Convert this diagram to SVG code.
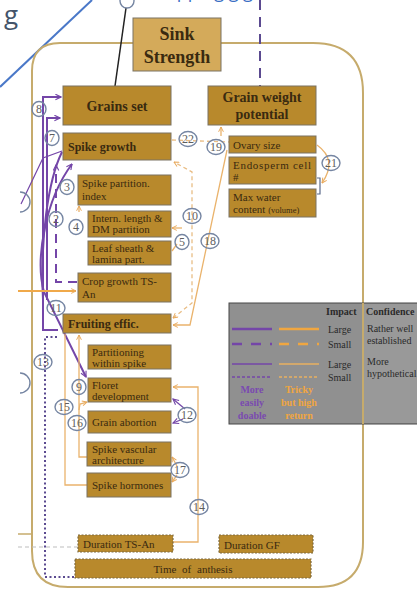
<svg xmlns="http://www.w3.org/2000/svg" width="417" height="591" viewBox="0 0 417 591">
<defs>
<style>
.box{fill:#b8892c;stroke:#7a7262;stroke-width:1}
.dbox{fill:#b8892c;stroke:#7d6a40;stroke-width:1.2;stroke-dasharray:2 1.5}
.t{font-family:"Liberation Serif","DejaVu Serif",serif;fill:#3a2a10;font-size:11px}
.tb{font-family:"Liberation Serif","DejaVu Serif",serif;fill:#3a2a10;font-weight:bold}
.c{fill:none;stroke:#7585a2;stroke-width:1.4}
.cn{font-family:"Liberation Serif","DejaVu Serif",serif;fill:#5e5e5e;font-size:12px;text-anchor:middle}
.pu{fill:none;stroke:#7446a8;stroke-width:2}
.put{fill:none;stroke:#7446a8;stroke-width:1.2}
.or{fill:none;stroke:#eab36c;stroke-width:1.3}
.ord{fill:none;stroke:#e9bd85;stroke-width:1.3;stroke-dasharray:4 3}
.lg{font-family:"Liberation Serif","DejaVu Serif",serif;fill:#2a2a2a;font-size:10px}
</style>
<marker id="ap" viewBox="0 0 10 10" refX="9" refY="5" markerWidth="7" markerHeight="7" orient="auto-start-reverse" markerUnits="userSpaceOnUse">
<path d="M1,1 L9,5 L1,9" fill="none" stroke="#7446a8" stroke-width="1.6"/>
</marker>
<marker id="ao" viewBox="0 0 10 10" refX="9" refY="5" markerWidth="6" markerHeight="6" orient="auto-start-reverse" markerUnits="userSpaceOnUse">
<path d="M1,1 L9,5 L1,9" fill="none" stroke="#e8a85a" stroke-width="1.6"/>
</marker>
</defs>
<rect width="417" height="591" fill="#ffffff"/>
<!-- header fragments -->
<text x="4" y="24" font-family="Open Sans, Liberation Sans, sans-serif" font-size="26" fill="#44546a">g</text>
<text x="150" y="-2" font-family="Open Sans, Liberation Sans, sans-serif" font-size="18" fill="#3a6fc4">mapping gig</text>
<line x1="92" y1="0" x2="0" y2="87" stroke="#4a78c8" stroke-width="2"/>
<!-- outline -->
<path d="M60,43 L313,43 Q363,43 363,93 L363,542 Q363,587 318,587 L68,587 Q32,587 32,551 L32,71 Q32,43 60,43 Z" fill="none" stroke="#c6ab6c" stroke-width="2"/>
<!-- legend -->
<g id="legend">
<rect x="229" y="303" width="200" height="121" fill="#909090" stroke="#474747" stroke-width="1"/>
<rect x="364" y="304" width="53" height="119" fill="#999999"/>
<line x1="363" y1="303" x2="363" y2="424" stroke="#c6ab6c" stroke-width="2"/>
<text class="lg" x="326" y="315" font-weight="bold">Impact</text>
<text class="lg" x="366" y="315" font-weight="bold">Confidence</text>
<line x1="232" y1="329" x2="272" y2="329" stroke="#7446a8" stroke-width="2.5"/>
<line x1="279" y1="329" x2="319" y2="329" stroke="#f0a640" stroke-width="2.5"/>
<text class="lg" x="328" y="333">Large</text>
<text class="lg" x="367" y="332">Rather well</text>
<text class="lg" x="367" y="344">established</text>
<line x1="232" y1="344" x2="272" y2="344" stroke="#7446a8" stroke-width="2.5" stroke-dasharray="10 9"/>
<line x1="279" y1="344" x2="319" y2="344" stroke="#f0a640" stroke-width="2.5" stroke-dasharray="10 9"/>
<text class="lg" x="328" y="348">Small</text>
<line x1="232" y1="364" x2="272" y2="364" stroke="#7446a8" stroke-width="1.5"/>
<line x1="279" y1="364" x2="319" y2="364" stroke="#e8b060" stroke-width="1.5"/>
<text class="lg" x="328" y="368">Large</text>
<text class="lg" x="367" y="365">More</text>
<text class="lg" x="367" y="377">hypothetical</text>
<line x1="232" y1="377" x2="272" y2="377" stroke="#7446a8" stroke-width="1.3" stroke-dasharray="3 2"/>
<line x1="279" y1="377" x2="319" y2="377" stroke="#e8b060" stroke-width="1.3" stroke-dasharray="3 2"/>
<text class="lg" x="328" y="381">Small</text>
<g font-family="Liberation Serif, serif" font-size="10" font-weight="bold" text-anchor="middle" fill="#7a4ab0">
<text x="252" y="393">More</text><text x="252" y="406">easily</text><text x="252" y="419">doable</text>
</g>
<g font-family="Liberation Serif, serif" font-size="10" font-weight="bold" text-anchor="middle" fill="#f0a640">
<text x="299" y="393">Tricky</text><text x="299" y="406">but high</text><text x="299" y="419">return</text>
</g>
</g>
<!-- connectors -->
<g id="connectors">
<line x1="126" y1="8" x2="115" y2="86" stroke="#222" stroke-width="1.5"/>
<line x1="260" y1="0" x2="260" y2="86" stroke="#5b4a90" stroke-width="2" stroke-dasharray="10 7"/>
<path class="pu" d="M58,330 L43,330 L43,97 L61,97" marker-end="url(#ap)"/>
<path class="pu" d="M47,300 L47,118 L60,118" marker-end="url(#ap)"/>
<path class="pu" d="M72,164 C45,200 35,260 44,292 L86,377" marker-start="url(#ap)" marker-end="url(#ap)"/>
<path class="pu" d="M62,152 C48,180 40,240 43,300"/>
<path class="put" d="M21,204 L43,158 L62,151"/>
<path class="pu" d="M77,282 L56,282 L56,165" stroke-dasharray="9 6" marker-end="url(#ap)"/>
<path class="put" d="M185,409 L173,399" marker-end="url(#ap)"/>
<path class="put" d="M183,419 L173,423" marker-end="url(#ap)"/>
<path d="M57,337 L45,337 L45,577 L75,577" fill="none" stroke="#5b4a90" stroke-width="2" stroke-dasharray="2 2.5"/>
<path d="M18,291 L76,291" fill="none" stroke="#f0a94a" stroke-width="2" marker-end="url(#ao)"/>
<path class="ord" d="M173,318 L192,303 L192,172 L174,162" marker-start="url(#ao)" marker-end="url(#ao)"/>
<path class="or" d="M227,150 L190,325 L173,325" marker-end="url(#ao)"/>
<path class="ord" d="M172,140 L229,142"/>
<path class="or" d="M221,136 L221,127" marker-end="url(#ao)"/>
<path class="or" d="M317,145 Q338,160 322,183" marker-end="url(#ao)"/>
<path d="M317,178 L320,178 L320,194 L317,194" fill="none" stroke="#5a6a8a" stroke-width="1.2"/>
<path class="or" d="M173,542 L198,542 L198,387 L173,387" marker-end="url(#ao)"/>
<path class="or" d="M87,457 L79,457 L79,335" marker-end="url(#ao)"/>
<path class="or" d="M87,485 L65,485 L65,334"/>
<path class="or" d="M79,410 L80,404 L87,402" marker-end="url(#ao)"/>
<path class="or" d="M79,212 L79,206" marker-end="url(#ao)"/>
<path class="or" d="M182,228 L172,228" stroke="#9a9a50" marker-end="url(#ao)"/>
<path class="or" d="M177,244 L172,251" stroke="#9a9a50"/>
<path class="or" d="M177,466 L172,457" marker-end="url(#ao)"/>
<path class="or" d="M177,475 L172,482" marker-end="url(#ao)"/>
<line x1="18" y1="547" x2="78" y2="547" stroke="#bdbdbd" stroke-width="1.2" stroke-dasharray="4 3"/>
<line x1="18" y1="534" x2="32" y2="534" stroke="#c6ab6c" stroke-width="1.5"/>
</g>
<!-- nodes -->
<g id="sink-strength"><rect x="133" y="18" width="88" height="53" fill="#d4aa5a" stroke="#7a7262"/><text class="tb" x="177" y="40" font-size="18" text-anchor="middle">Sink</text><text class="tb" x="177" y="63" font-size="18" text-anchor="middle">Strength</text></g>
<g id="grains-set"><rect class="box" x="63" y="86" width="108" height="39"/><text class="tb" x="117" y="111" font-size="14" text-anchor="middle">Grains set</text></g>
<g id="grain-weight"><rect class="box" x="208" y="86" width="108" height="39"/><text class="tb" x="262" y="102" font-size="14" text-anchor="middle">Grain weight</text><text class="tb" x="262" y="119" font-size="14" text-anchor="middle">potential</text></g>
<g id="spike-growth"><rect class="box" x="63" y="133" width="108" height="27"/><text class="tb" x="68" y="151" font-size="12">Spike growth</text></g>
<g id="ovary-size"><rect class="box" x="229" y="136" width="87" height="17"/><text class="t" x="233" y="149" font-size="12">Ovary size</text></g>
<g id="endosperm"><rect class="box" x="229" y="157" width="87" height="27"/><text class="t" x="233" y="169" font-size="12" textLength="78">Endosperm cell</text><text class="t" x="233" y="181" font-size="12">#</text></g>
<g id="max-water"><rect class="box" x="229" y="189" width="87" height="28"/><text class="t" x="233" y="201" font-size="12">Max water</text><text class="t" x="233" y="213" font-size="11">content <tspan font-size="8.5">(volume)</tspan></text></g>
<g id="spike-partition"><rect class="box" x="78" y="175" width="93" height="30"/><text class="t" x="82" y="187" font-size="12">Spike partition.</text><text class="t" x="82" y="200" font-size="12">index</text></g>
<g id="intern-length"><rect class="box" x="88" y="211" width="83" height="26"/><text class="t" x="92" y="222">Intern. length &amp;</text><text class="t" x="92" y="233">DM partition</text></g>
<g id="leaf-sheath"><rect class="box" x="88" y="241" width="83" height="24"/><text class="t" x="92" y="252">Leaf sheath &amp;</text><text class="t" x="92" y="263">lamina part.</text></g>
<g id="crop-growth"><rect class="box" x="78" y="273" width="93" height="29"/><text class="t" x="82" y="285" font-size="12">Crop growth TS-</text><text class="t" x="82" y="298" font-size="12">An</text></g>
<g id="fruiting-effic"><rect class="box" x="63" y="314" width="108" height="19"/><text class="tb" x="68" y="328" font-size="12">Fruiting effic.</text></g>
<g id="partitioning"><rect class="box" x="88" y="345" width="83" height="24"/><text class="t" x="92" y="356">Partitioning</text><text class="t" x="92" y="367">within spike</text></g>
<g id="floret"><rect class="box" x="88" y="378" width="83" height="24"/><text class="t" x="92" y="389">Floret</text><text class="t" x="92" y="400">development</text></g>
<g id="grain-abortion"><rect class="box" x="88" y="411" width="83" height="22"/><text class="t" x="92" y="426">Grain abortion</text></g>
<g id="spike-vascular"><rect class="box" x="87" y="442" width="84" height="24"/><text class="t" x="92" y="453">Spike vascular</text><text class="t" x="92" y="464">architecture</text></g>
<g id="spike-hormones"><rect class="box" x="87" y="473" width="84" height="24"/><text class="t" x="92" y="489">Spike hormones</text></g>
<g id="duration-ts-an"><rect class="dbox" x="78" y="535" width="95" height="17"/><text class="t" x="83" y="548" font-size="13">Duration TS-An</text></g>
<g id="duration-gf"><rect class="dbox" x="219" y="535" width="94" height="18"/><text class="t" x="224" y="549" font-size="13">Duration GF</text></g>
<g id="time-anthesis"><rect class="dbox" x="75" y="559" width="236" height="19"/><text class="t" x="193" y="573" font-size="13" text-anchor="middle" word-spacing="3">Time of anthesis</text></g>
<!-- numbered labels -->
<g id="labels">
<ellipse class="c" cx="127" cy="1" rx="7" ry="7"/>
<path class="c" d="M20,192 A10,10 0 0,1 20,212"/>
<path class="c" d="M20,373 A10,10 0 0,1 20,393"/>
<g><ellipse class="c" cx="39" cy="109" rx="7" ry="7.5" fill="#fff"/><text class="cn" x="39" y="113">8</text></g>
<g><ellipse class="c" cx="52" cy="138" rx="7" ry="7.5" fill="#fff"/><text class="cn" x="52" y="142">7</text></g>
<g><ellipse class="c" cx="188" cy="139" rx="9" ry="7.5" fill="#fff"/><text class="cn" x="188" y="143">22</text></g>
<g><ellipse class="c" cx="216" cy="147" rx="9" ry="7.5" fill="#fff"/><text class="cn" x="216" y="151">19</text></g>
<g><ellipse class="c" cx="331" cy="163" rx="9" ry="7.5" fill="#fff"/><text class="cn" x="331" y="167">21</text></g>
<g><ellipse class="c" cx="67" cy="187" rx="7" ry="7.5" fill="#fff"/><text class="cn" x="67" y="191">3</text></g>
<g><ellipse class="c" cx="56" cy="219" rx="7" ry="7.5" fill="#fff"/><text class="cn" x="56" y="223">2</text></g>
<g><ellipse class="c" cx="76" cy="227" rx="7" ry="7.5" fill="#fff"/><text class="cn" x="76" y="231">4</text></g>
<g><ellipse class="c" cx="192" cy="216" rx="9" ry="7.5" fill="#fff"/><text class="cn" x="192" y="220">10</text></g>
<g><ellipse class="c" cx="182" cy="242" rx="7" ry="7.5" fill="#fff"/><text class="cn" x="182" y="246">5</text></g>
<g><ellipse class="c" cx="210" cy="241" rx="9" ry="7.5" fill="#fff"/><text class="cn" x="210" y="245">18</text></g>
<g><ellipse class="c" cx="56" cy="308" rx="9" ry="7.5" fill="#fff"/><text class="cn" x="56" y="312">11</text></g>
<g><ellipse class="c" cx="43" cy="362" rx="9" ry="7.5" fill="#fff"/><text class="cn" x="43" y="366">13</text></g>
<g><ellipse class="c" cx="79" cy="387" rx="7" ry="7.5" fill="#fff"/><text class="cn" x="79" y="391">9</text></g>
<g><ellipse class="c" cx="64" cy="407" rx="9" ry="7.5" fill="#fff"/><text class="cn" x="64" y="411">15</text></g>
<g><ellipse class="c" cx="77" cy="423" rx="9" ry="7.5" fill="#fff"/><text class="cn" x="77" y="427">16</text></g>
<g><ellipse class="c" cx="187" cy="415" rx="9" ry="7.5" fill="#fff"/><text class="cn" x="187" y="419">12</text></g>
<g><ellipse class="c" cx="180" cy="470" rx="9" ry="7.5" fill="#fff"/><text class="cn" x="180" y="474">17</text></g>
<g><ellipse class="c" cx="199" cy="507" rx="9" ry="7.5" fill="#fff"/><text class="cn" x="199" y="511">14</text></g>
</g>
</svg>
